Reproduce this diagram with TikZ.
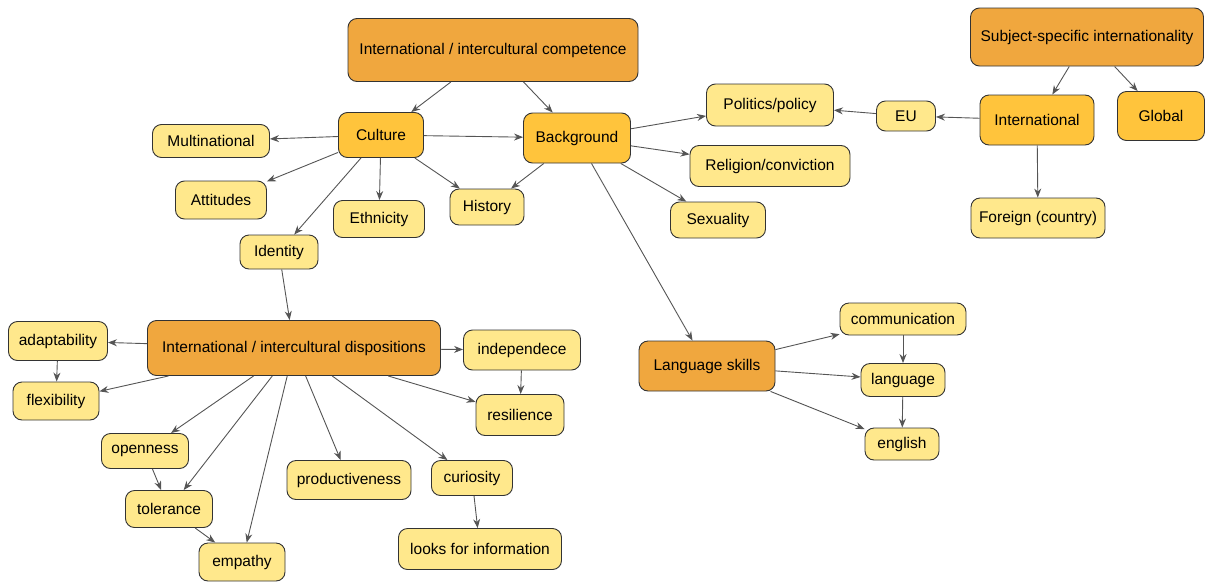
\documentclass[tikz,border=0pt]{standalone}
\usepackage{fontspec}
\setmainfont{Liberation Sans}
\usetikzlibrary{arrows.meta}
\definecolor{topfill}{HTML}{F0A73E}
\definecolor{midfill}{HTML}{FFC43C}
\definecolor{leaffill}{HTML}{FFE88C}
\definecolor{edgegray}{HTML}{555555}
\tikzset{
  concept/.style={draw=black!80, line width=0.9pt, rounded corners=9pt,
    font=\fontsize{15.5}{17}\selectfont, inner sep=2pt},
  topbox/.style={concept, fill=topfill},
  midbox/.style={concept, fill=midfill},
  leafbox/.style={concept, fill=leaffill},
  link/.style={draw=edgegray, line width=0.9pt, -{Stealth[length=9pt,width=7pt]}},
}

\begin{document}
\begin{tikzpicture}[x=1pt,y=-1pt]
  \useasboundingbox (0,0) rectangle (1205,584);
  % top level
  \node[topbox, minimum width=290, minimum height=63] (comp) at (493,50) {International / intercultural competence};
  \node[topbox, minimum width=233, minimum height=58] (subj) at (1087,37) {Subject-specific internationality};
  \node[topbox, minimum width=293, minimum height=55] (disp) at (294,348) {International / intercultural dispositions};
  \node[topbox, minimum width=136, minimum height=50] (langskills) at (707,366) {Language skills};
  % second level
  \node[midbox, minimum width=85, minimum height=45] (culture) at (381,135) {Culture};
  \node[midbox, minimum width=107, minimum height=50] (background) at (577,138) {Background};
  \node[midbox, minimum width=114, minimum height=50] (intl) at (1037,120) {International};
  \node[midbox, minimum width=87, minimum height=49] (global) at (1161,116) {Global};
  % leaves
  \node[leafbox, minimum width=117, minimum height=33] (multinational) at (211,141) {Multinational};
  \node[leafbox, minimum width=127, minimum height=42] (politics) at (770,105) {Politics/policy};
  \node[leafbox, minimum width=59, minimum height=30] (eu) at (906,116) {EU};
  \node[leafbox, minimum width=160, minimum height=41] (religion) at (770,166) {Religion/conviction};
  \node[leafbox, minimum width=91, minimum height=38] (attitudes) at (221,200) {Attitudes};
  \node[leafbox, minimum width=91, minimum height=37] (ethnicity) at (379,219) {Ethnicity};
  \node[leafbox, minimum width=74, minimum height=36] (history) at (487,207) {History};
  \node[leafbox, minimum width=95, minimum height=36] (sexuality) at (718,220) {Sexuality};
  \node[leafbox, minimum width=134, minimum height=40] (foreign) at (1038,218) {Foreign (country)};
  \node[leafbox, minimum width=78, minimum height=34] (identity) at (279,252) {Identity};
  \node[leafbox, minimum width=99, minimum height=39] (adapt) at (58,341) {adaptability};
  \node[leafbox, minimum width=86, minimum height=38] (flex) at (56,401) {flexibility};
  \node[leafbox, minimum width=117, minimum height=40] (indep) at (522,350) {independece};
  \node[leafbox, minimum width=88, minimum height=41] (resil) at (520,415) {resilience};
  \node[leafbox, minimum width=126, minimum height=32] (comm) at (903,319) {communication};
  \node[leafbox, minimum width=84, minimum height=33] (language) at (903,380) {language};
  \node[leafbox, minimum width=74, minimum height=32] (english) at (902,444) {english};
  \node[leafbox, minimum width=87, minimum height=35] (open) at (145,451) {openness};
  \node[leafbox, minimum width=87, minimum height=37] (toler) at (169,509) {tolerance};
  \node[leafbox, minimum width=86, minimum height=38] (empathy) at (242,562) {empathy};
  \node[leafbox, minimum width=124, minimum height=39] (product) at (349,480) {productiveness};
  \node[leafbox, minimum width=81, minimum height=35] (curio) at (472,478) {curiosity};
  \node[leafbox, minimum width=163, minimum height=41] (looks) at (480,549) {looks for information};
  % connectors
  \foreach \a/\b in {comp/culture, comp/background,
      culture/multinational, culture/background, culture/attitudes, culture/ethnicity,
      culture/history, culture/identity,
      background/politics, background/religion, background/sexuality, background/history,
      background/langskills,
      subj/intl, subj/global, intl/eu, eu/politics, intl/foreign,
      identity/disp,
      disp/adapt, adapt/flex, disp/flex, disp/indep, indep/resil, disp/resil,
      disp/open, disp/toler, disp/empathy, disp/product, disp/curio,
      open/toler, toler/empathy, curio/looks,
      langskills/comm, langskills/language, langskills/english, comm/language, language/english}
    \draw[link] (\a) -- (\b);
\end{tikzpicture}
\end{document}
